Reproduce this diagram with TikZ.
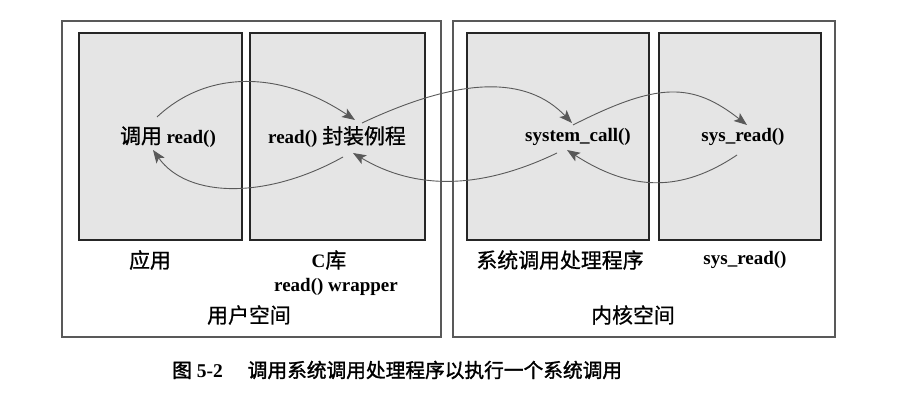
\documentclass[tikz,border=0pt]{standalone}
\usepackage{fontspec}
\setmainfont{Liberation Serif}
\newfontfamily\cjk[Scale=1.1,FakeBold=0.8]{Noto Sans CJK SC}
\newfontfamily\cjkcap[FakeBold=1.6]{Noto Sans CJK SC}
\newcommand{\zh}[1]{{\cjk\mdseries #1}}
\usetikzlibrary{arrows.meta,positioning,calc}
\tikzset{%
  % Specifications for style of nodes:
      space/.style = {draw=black!65, line width=1.1pt, inner sep=0pt,
                      minimum height=316pt},
       pane/.style = {draw=black!85, line width=1.4pt, fill=black!10,
                      inner sep=0pt, minimum height=207pt},
        txt/.style = {inner sep=0pt, font=\fontsize{19}{22}\selectfont\bfseries},
pil/.style={
           -{Stealth[length=13pt,width=10pt,inset=3pt]},
           draw=black!65,
           line width=0.9pt,}
}

\begin{document}
\begin{tikzpicture}[x=1pt,y=1pt]
\useasboundingbox (0,0) rectangle (906,404);

% user space and kernel space
\node (user)   [space, minimum width=379pt] at (251.5,225) {};
\node (kernel) [space, minimum width=382pt] at (644,225)   {};

\node (app)    [pane, minimum width=163pt] at (160.5,267.5) {};
\node (libc)   [pane, minimum width=175pt] at (337.5,267.5) {};
\node (handler)[pane, minimum width=182pt] at (558,267.5)   {};
\node (service)[pane, minimum width=162pt] at (740,267.5)   {};

\node (call)    [txt] at (168,267) {\zh{调用} read()};
\node (wrap)    [txt] at (337,267) {read() \zh{封装例程}};
\node (syscall) [txt] at (578,267) {system\_call()};
\node (sysread) [txt] at (743,267) {sys\_read()};

\node (applbl)  [txt] at (150,144) {\zh{应用}};
\node (libclbl) [txt] at (329,144) {C\zh{库}};
\node (wraplbl) [txt] at (336,117) {read() wrapper};
\node (userlbl) [txt] at (249,89)  {\zh{用户空间}};
\node (hndlbl)  [txt] at (560,144) {\zh{系统调用处理程序}};
\node (srvlbl)  [txt] at (745,144) {sys\_read()};
\node (kernlbl) [txt] at (633,89)  {\zh{内核空间}};

\node (caption) [txt, anchor=west, font=\fontsize{19.5}{22}\selectfont\bfseries]
  at (172,34) {{\cjkcap\mdseries\fontsize{19.7}{22}\selectfont 图} 5-2\hspace{25pt}{\cjkcap\mdseries\fontsize{19.7}{22}\selectfont 调用系统调用处理程序以执行一个系统调用}};

% calls going in
\draw[pil] ($(call)+(-11,20)$)   .. controls +(50,47)  and +(-75,50) .. ($(wrap)+(18,17)$);
\draw[pil] ($(wrap)+(25,14)$)    .. controls +(100,47) and +(-45,47) .. ($(syscall)+(-6,14)$);
\draw[pil] ($(syscall)+(-5,12)$) .. controls +(85,43)  and +(-55,43) .. ($(sysread)+(4,12)$);
% returns
\draw[pil] ($(sysread)+(-6,-18)$) .. controls +(-55,-37) and +(65,-42) .. ($(syscall)+(-11,-13)$);
\draw[pil] ($(syscall)+(-21,-16)$) .. controls +(-77,-37) and +(62,-37) .. ($(wrap)+(16,-16)$);
\draw[pil] ($(wrap)+(6,-20)$)     .. controls +(-75,-42) and +(35,-49) .. ($(call)+(-15,-13)$);

\end{tikzpicture}
\end{document}
